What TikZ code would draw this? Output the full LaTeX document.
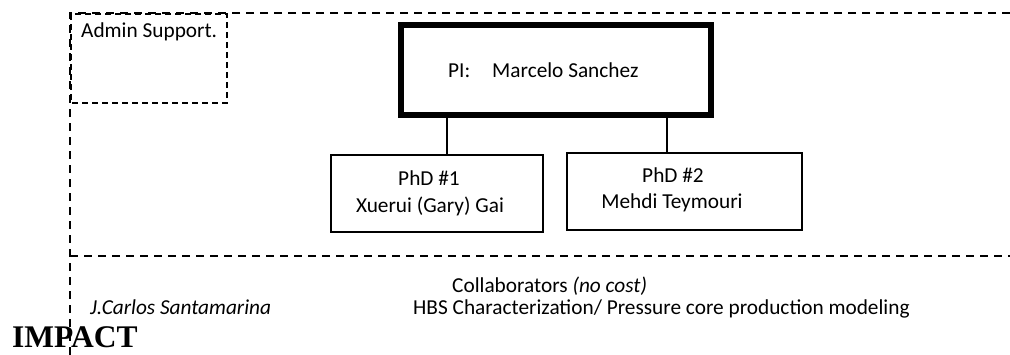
\documentclass[tikz,border=0pt]{standalone}
\usepackage{fontspec}
\setmainfont{Carlito}
\newfontfamily\impactfont{Liberation Serif}
\begin{document}
\begin{tikzpicture}[x=1pt,y=-1pt,
  outerdash/.style={line width=1.5pt,dash pattern=on 8pt off 6pt},
  admindash/.style={line width=2.6pt,dash pattern=on 6pt off 4pt},
  pibox/.style={draw,line width=6pt,minimum width=310pt,minimum height=90pt,inner sep=0pt},
  phdbox/.style={draw,line width=2pt,inner sep=0pt},
  conn/.style={line width=2pt},
  txt/.style={anchor=base west,inner sep=0pt,font=\fontsize{21.3}{25}\selectfont},
  ctxt/.style={anchor=base,inner sep=0pt,font=\fontsize{21.3}{25}\selectfont}]
\useasboundingbox (0,0) rectangle (1010,354);
% outer dashed frame
\coordinate (otl) at (70,13);
\coordinate (otr) at (1010,13);
\coordinate (obl) at (70,356);
\coordinate (mlr) at (1010,256);
\coordinate (mll) at (70,256);
\draw[outerdash] (otr) -- (otl) -- (obl);
\draw[outerdash] (mll) -- (mlr);
% admin box
\draw[admindash] (71,14) rectangle (227,103);
\node[txt] (admin) at (81,37) {Admin Support.};
% PI box
\node[pibox] (pi) at (556,70) {};
\node[txt] (pilab) at (448,77) {PI:};
\node[txt] (piname) at (492,77) {Marcelo Sanchez};
% PhD boxes
\node[phdbox,minimum width=212pt,minimum height=77pt] (phd1) at (436.5,193) {};
\node[phdbox,minimum width=235pt,minimum height=77pt] (phd2) at (684,191) {};
\node[ctxt] (p1a) at (429,185) {PhD \#1};
\node[ctxt] (p1b) at (430,212) {Xuerui (Gary) Gai};
\node[ctxt] (p2a) at (673,182) {PhD \#2};
\node[ctxt] (p2b) at (672,208) {Mehdi Teymouri};
% connectors
\draw[conn] (pi.south -| 447,0) ++(0,-3) -- (phd1.north -| 447,0);
\draw[conn] (pi.south -| 667,0) ++(0,-3) -- (phd2.north -| 667,0);
% collaborators
\node[txt] (collab) at (452,292) {Collaborators \textit{(no cost)}};
\node[txt] (jcs) at (90,314) {\textit{J.Carlos Santamarina}};
\node[txt] (hbs) at (413,314) {HBS Characterization/ Pressure core production modeling};
\node[anchor=base west,inner sep=0pt,font=\impactfont\bfseries\fontsize{31.5}{34}\selectfont] (impact) at (12,347) {IMPACT};
\end{tikzpicture}
\end{document}
